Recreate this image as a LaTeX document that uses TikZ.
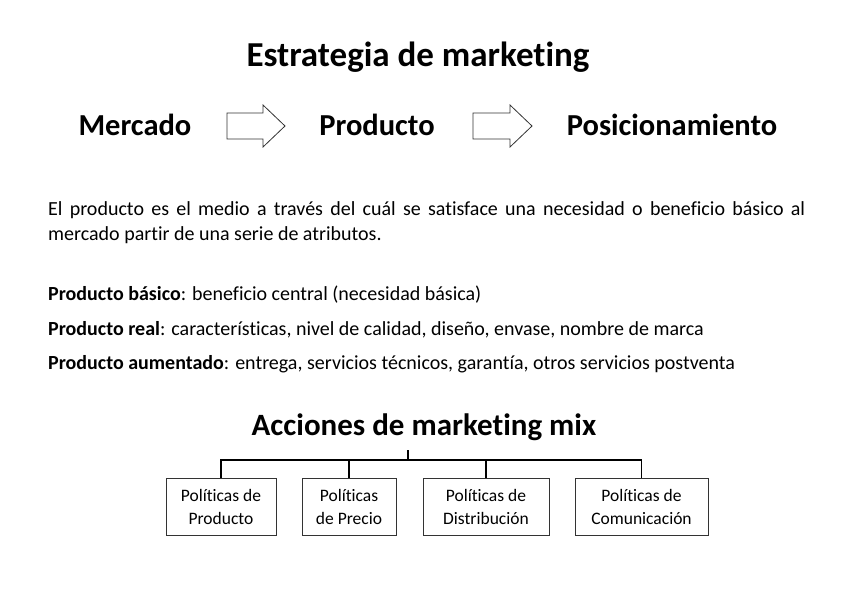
\documentclass[tikz,border=0pt]{standalone}
\usepackage{fontspec}
\setmainfont{Carlito}[Ligatures=NoCommon]
\usepackage{tikz}
\usetikzlibrary{positioning,calc}

\begin{document}
\begin{tikzpicture}[x=1pt,y=-1pt,
    titulo/.style={font=\fontsize{35}{40}\selectfont\bfseries,inner sep=0pt},
    etapa/.style={font=\fontsize{30.5}{36}\selectfont\bfseries,inner sep=0pt},
    texto/.style={font=\fontsize{20}{25}\selectfont,inner sep=0pt,anchor=west},
    flecha/.style={draw=black!80,line width=0.8pt,fill=white},
    politica/.style={draw=black!80,line width=0.8pt,align=center,
        font=\fontsize{17.5}{23}\selectfont,inner sep=0pt,minimum height=57pt}]
  \useasboundingbox (0,0) rectangle (848,599);

  \node[titulo] (tit) at (418,57) {Estrategia de marketing};

  % mercado -> producto -> posicionamiento
  \node[etapa] (merc) at (135,125) {Mercado};
  \node[etapa] (prod) at (377,125) {Producto};
  \node[etapa] (pos) at (672,125) {Posicionamiento};
  \draw[flecha] (227,113) -- (263,113) -- (263,105) -- (285,126)
      -- (263,147) -- (263,139) -- (227,139) -- cycle;
  \draw[flecha] (473,113) -- (510,113) -- (510,105) -- (532,126)
      -- (510,147) -- (510,139) -- (473,139) -- cycle;

  \node[texto,anchor=north west,text width=757pt,align=justify] (parr) at (48,201)
    {El producto es el medio a trav\'es del cu\'al se satisface una necesidad o beneficio b\'asico al\linebreak mercado partir de una serie de atributos.};

  \node[texto] (basico) at (48,295) {\textbf{Producto b\'asico}: beneficio central (necesidad b\'asica)};
  \node[texto] (real) at (48,330) {\textbf{Producto real}: caracter\'isticas, nivel de calidad, dise\~no, envase, nombre de marca};
  \node[texto] (aum) at (48,364) {\textbf{Producto aumentado}: entrega, servicios t\'ecnicos, garant\'ia, otros servicios postventa};

  % marketing mix
  \node[titulo,font=\fontsize{31}{36}\selectfont\bfseries] (mix) at (424,427) {Acciones de marketing mix};
  \coordinate (raiz) at (408,450);
  \coordinate (barra) at (408,460);
  \node[politica,minimum width=110pt] (p1) at (221,506.5) {Pol\'iticas de\\Producto};
  \node[politica,minimum width=94pt] (p2) at (349,506.5) {Pol\'iticas\\de Precio};
  \node[politica,minimum width=126pt] (p3) at (486,506.5) {Pol\'iticas de\\Distribuci\'on};
  \node[politica,minimum width=133pt] (p4) at (641.5,506.5) {Pol\'iticas de\\Comunicaci\'on};

  \draw[line width=1.4pt] (raiz) -- (barra);
  \draw[line width=1.4pt] (p1.north) |- (barra) -| (p4.north);
  \draw[line width=1.4pt] (p2.north) -- (p2.north |- barra);
  \draw[line width=1.4pt] (p3.north) -- (p3.north |- barra);
\end{tikzpicture}
\end{document}
